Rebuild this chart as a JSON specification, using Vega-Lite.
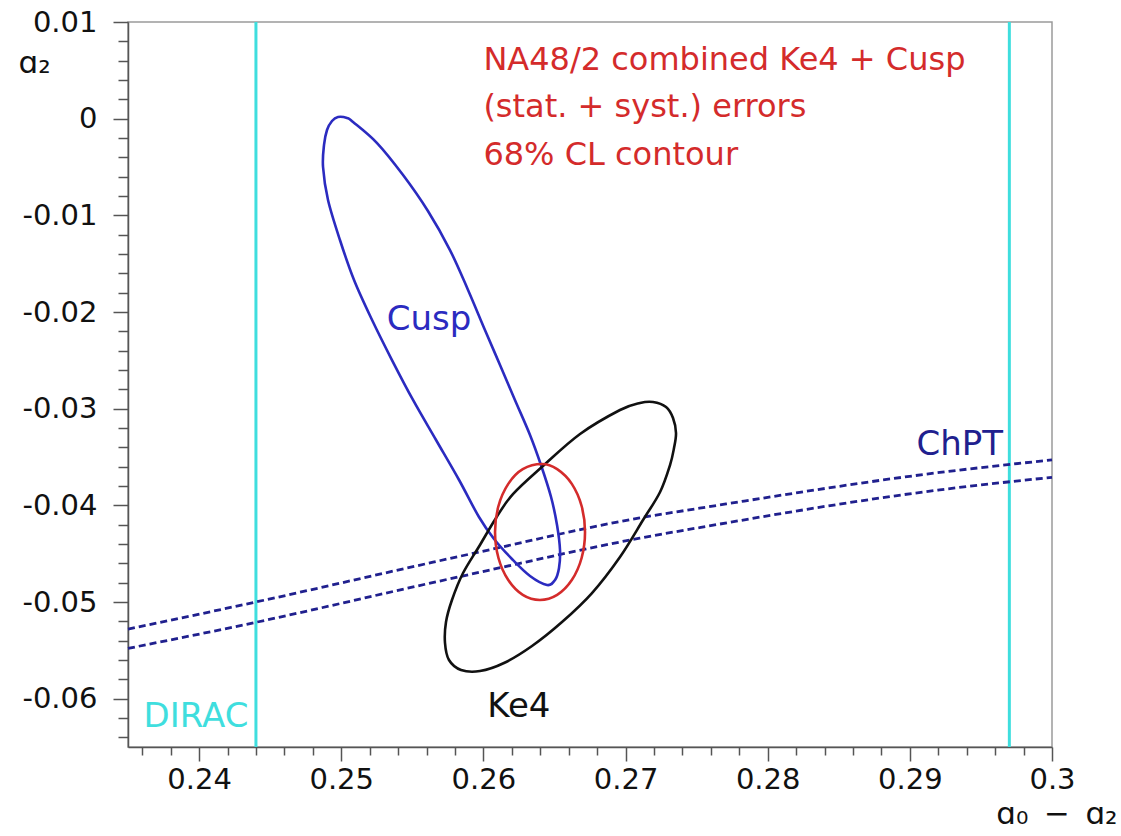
{
  "$schema": "https://vega.github.io/schema/vega-lite/v6.json",
  "width": 924,
  "height": 725,
  "autosize": {"type": "none"},
  "padding": {"left": 128, "top": 22, "right": 69, "bottom": 89},
  "background": "white",
  "config": {
    "font": "DejaVu Sans",
    "view": {"stroke": "#9a9a9a", "strokeWidth": 1.5},
    "axis": {
      "grid": false,
      "domainColor": "#555555",
      "domainWidth": 1.5,
      "tickColor": "#555555",
      "tickWidth": 1.5,
      "labelColor": "#111111",
      "labelFont": "DejaVu Sans",
      "labelFontSize": 29,
      "labelFlush": false,
      "labelOverlap": false,
      "titleFont": "DejaVu Sans",
      "titleFontWeight": "normal",
      "titleColor": "#111111",
      "titleFontSize": 31
    }
  },
  "datasets": {
    "dirac": [
      {"x": 0.244, "series": "DIRAC"},
      {"x": 0.297, "series": "DIRAC"}
    ],
    "chpt": [
      {"curve": "upper", "series": "ChPT", "x": 0.235, "y": -0.0528},
      {"curve": "upper", "series": "ChPT", "x": 0.244, "y": -0.0500},
      {"curve": "upper", "series": "ChPT", "x": 0.2561, "y": -0.0460},
      {"curve": "upper", "series": "ChPT", "x": 0.2598, "y": -0.0448},
      {"curve": "upper", "series": "ChPT", "x": 0.271, "y": -0.0413},
      {"curve": "upper", "series": "ChPT", "x": 0.2752, "y": -0.0403},
      {"curve": "upper", "series": "ChPT", "x": 0.2921, "y": -0.0366},
      {"curve": "upper", "series": "ChPT", "x": 0.300, "y": -0.0353},
      {"curve": "lower", "series": "ChPT", "x": 0.235, "y": -0.0548},
      {"curve": "lower", "series": "ChPT", "x": 0.244, "y": -0.0521},
      {"curve": "lower", "series": "ChPT", "x": 0.2561, "y": -0.0481},
      {"curve": "lower", "series": "ChPT", "x": 0.2598, "y": -0.0469},
      {"curve": "lower", "series": "ChPT", "x": 0.271, "y": -0.0434},
      {"curve": "lower", "series": "ChPT", "x": 0.2752, "y": -0.0423},
      {"curve": "lower", "series": "ChPT", "x": 0.2921, "y": -0.0384},
      {"curve": "lower", "series": "ChPT", "x": 0.300, "y": -0.0371}
    ],
    "contours": [
      {"series": "Cusp", "i": 1, "x": 0.24977, "y": 0.00017},
      {"series": "Cusp", "i": 2, "x": 0.25041, "y": 0.00007},
      {"series": "Cusp", "i": 3, "x": 0.25083, "y": -0.00034},
      {"series": "Cusp", "i": 4, "x": 0.25252, "y": -0.00252},
      {"series": "Cusp", "i": 5, "x": 0.25435, "y": -0.00583},
      {"series": "Cusp", "i": 6, "x": 0.25610, "y": -0.00955},
      {"series": "Cusp", "i": 7, "x": 0.25765, "y": -0.01359},
      {"series": "Cusp", "i": 8, "x": 0.25892, "y": -0.01772},
      {"series": "Cusp", "i": 9, "x": 0.26011, "y": -0.02186},
      {"series": "Cusp", "i": 10, "x": 0.26117, "y": -0.02548},
      {"series": "Cusp", "i": 11, "x": 0.26222, "y": -0.02910},
      {"series": "Cusp", "i": 12, "x": 0.26328, "y": -0.03272},
      {"series": "Cusp", "i": 13, "x": 0.26405, "y": -0.03583},
      {"series": "Cusp", "i": 14, "x": 0.26476, "y": -0.03914},
      {"series": "Cusp", "i": 15, "x": 0.26518, "y": -0.04203},
      {"series": "Cusp", "i": 16, "x": 0.26539, "y": -0.04462},
      {"series": "Cusp", "i": 17, "x": 0.26532, "y": -0.04648},
      {"series": "Cusp", "i": 18, "x": 0.26504, "y": -0.04772},
      {"series": "Cusp", "i": 19, "x": 0.26448, "y": -0.04824},
      {"series": "Cusp", "i": 20, "x": 0.26328, "y": -0.04731},
      {"series": "Cusp", "i": 21, "x": 0.26201, "y": -0.04555},
      {"series": "Cusp", "i": 22, "x": 0.26075, "y": -0.04348},
      {"series": "Cusp", "i": 23, "x": 0.25969, "y": -0.04121},
      {"series": "Cusp", "i": 24, "x": 0.25829, "y": -0.03738},
      {"series": "Cusp", "i": 25, "x": 0.25667, "y": -0.03324},
      {"series": "Cusp", "i": 26, "x": 0.25505, "y": -0.02910},
      {"series": "Cusp", "i": 27, "x": 0.25357, "y": -0.02497},
      {"series": "Cusp", "i": 28, "x": 0.25217, "y": -0.02083},
      {"series": "Cusp", "i": 29, "x": 0.25090, "y": -0.01669},
      {"series": "Cusp", "i": 30, "x": 0.24991, "y": -0.01255},
      {"series": "Cusp", "i": 31, "x": 0.24907, "y": -0.00841},
      {"series": "Cusp", "i": 32, "x": 0.24872, "y": -0.00500},
      {"series": "Cusp", "i": 33, "x": 0.24879, "y": -0.00272},
      {"series": "Cusp", "i": 34, "x": 0.24900, "y": -0.00117},
      {"series": "Cusp", "i": 35, "x": 0.24935, "y": -0.00024},
      {"series": "Ke4", "i": 1, "x": 0.27193, "y": -0.02931},
      {"series": "Ke4", "i": 2, "x": 0.27285, "y": -0.02983},
      {"series": "Ke4", "i": 3, "x": 0.27334, "y": -0.03097},
      {"series": "Ke4", "i": 4, "x": 0.27355, "y": -0.03252},
      {"series": "Ke4", "i": 5, "x": 0.27341, "y": -0.03407},
      {"series": "Ke4", "i": 6, "x": 0.27313, "y": -0.03583},
      {"series": "Ke4", "i": 7, "x": 0.27243, "y": -0.03862},
      {"series": "Ke4", "i": 8, "x": 0.27123, "y": -0.04152},
      {"series": "Ke4", "i": 9, "x": 0.26961, "y": -0.04534},
      {"series": "Ke4", "i": 10, "x": 0.26764, "y": -0.04907},
      {"series": "Ke4", "i": 11, "x": 0.26553, "y": -0.05207},
      {"series": "Ke4", "i": 12, "x": 0.26342, "y": -0.05455},
      {"series": "Ke4", "i": 13, "x": 0.26145, "y": -0.05631},
      {"series": "Ke4", "i": 14, "x": 0.25976, "y": -0.05714},
      {"series": "Ke4", "i": 15, "x": 0.25843, "y": -0.05703},
      {"series": "Ke4", "i": 16, "x": 0.25758, "y": -0.05600},
      {"series": "Ke4", "i": 17, "x": 0.25730, "y": -0.05424},
      {"series": "Ke4", "i": 18, "x": 0.25737, "y": -0.05207},
      {"series": "Ke4", "i": 19, "x": 0.25779, "y": -0.04979},
      {"series": "Ke4", "i": 20, "x": 0.25857, "y": -0.04700},
      {"series": "Ke4", "i": 21, "x": 0.25976, "y": -0.04410},
      {"series": "Ke4", "i": 22, "x": 0.26089, "y": -0.04131},
      {"series": "Ke4", "i": 23, "x": 0.26208, "y": -0.03883},
      {"series": "Ke4", "i": 24, "x": 0.26419, "y": -0.03593},
      {"series": "Ke4", "i": 25, "x": 0.26680, "y": -0.03262},
      {"series": "Ke4", "i": 26, "x": 0.26961, "y": -0.03014},
      {"series": "Ke4", "i": 27, "x": 0.27102, "y": -0.02941},
      {"series": "Combined", "i": 1, "x": 0.26412, "y": -0.03572},
      {"series": "Combined", "i": 2, "x": 0.26519, "y": -0.03626},
      {"series": "Combined", "i": 3, "x": 0.26622, "y": -0.03778},
      {"series": "Combined", "i": 4, "x": 0.26691, "y": -0.04007},
      {"series": "Combined", "i": 5, "x": 0.26715, "y": -0.04276},
      {"series": "Combined", "i": 6, "x": 0.26691, "y": -0.04545},
      {"series": "Combined", "i": 7, "x": 0.26622, "y": -0.04773},
      {"series": "Combined", "i": 8, "x": 0.26519, "y": -0.04926},
      {"series": "Combined", "i": 9, "x": 0.26398, "y": -0.04979},
      {"series": "Combined", "i": 10, "x": 0.26277, "y": -0.04926},
      {"series": "Combined", "i": 11, "x": 0.26175, "y": -0.04773},
      {"series": "Combined", "i": 12, "x": 0.26106, "y": -0.04545},
      {"series": "Combined", "i": 13, "x": 0.26082, "y": -0.04276},
      {"series": "Combined", "i": 14, "x": 0.26106, "y": -0.04007},
      {"series": "Combined", "i": 15, "x": 0.26175, "y": -0.03778},
      {"series": "Combined", "i": 16, "x": 0.26277, "y": -0.03626}
    ],
    "notes": [
      {"x": 0.26, "y": 0.00503, "text": "NA48/2 combined Ke4 + Cusp", "series": "Combined"},
      {"x": 0.26, "y": 0.00017, "text": "(stat. + syst.) errors", "series": "Combined"},
      {"x": 0.26, "y": -0.00479, "text": "68% CL contour", "series": "Combined"}
    ],
    "labels": [
      {"x": 0.25617, "y": -0.02186, "text": "Cusp", "series": "Cusp"},
      {"x": 0.2625, "y": -0.0619, "text": "Ke4", "series": "Ke4"},
      {"x": 0.29351, "y": -0.03479, "text": "ChPT", "series": "ChPT"},
      {"x": 0.23978, "y": -0.06293, "text": "DIRAC", "series": "DIRAC"}
    ]
  },
  "layer": [
    {
      "data": {"name": "dirac"},
      "mark": {"type": "rule", "strokeWidth": 3},
      "encoding": {
        "x": {
          "field": "x", "type": "quantitative",
          "scale": {"domain": [0.235, 0.3], "nice": false, "zero": false},
          "axis": {
            "orient": "bottom",
            "values": [0.24, 0.25, 0.26, 0.27, 0.28, 0.29, 0.3],
            "labelExpr": "format(datum.value, '.2~f')",
            "tickSize": 14,
            "labelPadding": 4,
            "title": "ɑ₀\u2002−\u2002ɑ₂",
            "titleX": 989,
            "titleY": 76,
            "titleAlign": "right",
            "titleBaseline": "alphabetic"
          }
        },
        "color": {
          "field": "series", "type": "nominal", "legend": null,
          "scale": {
            "domain": ["Cusp", "Ke4", "Combined", "ChPT", "DIRAC"],
            "range": ["#2b2bc0", "#111111", "#d42b2b", "#20208e", "#3fdede"]
          }
        }
      }
    },
    {
      "data": {"name": "chpt"},
      "mark": {"type": "line", "strokeWidth": 2.8, "strokeDash": [7, 4], "interpolate": "monotone"},
      "encoding": {
        "x": {
          "field": "x", "type": "quantitative",
          "axis": {
            "orient": "bottom",
            "values": [0.236, 0.238, 0.242, 0.244, 0.246, 0.248, 0.252, 0.254, 0.256, 0.258, 0.262, 0.264, 0.266, 0.268, 0.272, 0.274, 0.276, 0.278, 0.282, 0.284, 0.286, 0.288, 0.292, 0.294, 0.296, 0.298],
            "labels": false,
            "domain": false,
            "tickSize": 8,
            "title": null
          }
        },
        "y": {
          "field": "y", "type": "quantitative",
          "axis": {
            "orient": "left",
            "values": [0.008, 0.006, 0.004, 0.002, -0.002, -0.004, -0.006, -0.008, -0.012, -0.014, -0.016, -0.018, -0.022, -0.024, -0.026, -0.028, -0.032, -0.034, -0.036, -0.038, -0.042, -0.044, -0.046, -0.048, -0.052, -0.054, -0.056, -0.058, -0.062, -0.064],
            "labels": false,
            "domain": false,
            "tickSize": 10,
            "title": null
          }
        },
        "detail": {"field": "curve", "type": "nominal"},
        "color": {"field": "series", "type": "nominal", "legend": null}
      }
    },
    {
      "data": {"name": "contours"},
      "mark": {"type": "line", "strokeWidth": 2.6, "interpolate": "cardinal-closed"},
      "encoding": {
        "x": {"field": "x", "type": "quantitative", "axis": null},
        "y": {
          "field": "y", "type": "quantitative",
          "scale": {"domain": [-0.065, 0.01], "nice": false, "zero": false},
          "axis": {
            "orient": "left",
            "values": [0.01, 0, -0.01, -0.02, -0.03, -0.04, -0.05, -0.06],
            "labelExpr": "replace(format(datum.value, '.2~f'), '\u2212', '-')",
            "tickSize": 15,
            "labelPadding": 16,
            "title": "ɑ₂",
            "titleAngle": 0,
            "titleX": -110,
            "titleY": 50,
            "titleAlign": "left",
            "titleBaseline": "alphabetic"
          }
        },
        "order": {"field": "i", "type": "quantitative"},
        "color": {"field": "series", "type": "nominal", "legend": null}
      }
    },
    {
      "data": {"name": "notes"},
      "mark": {"type": "text", "align": "left", "baseline": "alphabetic", "fontSize": 32, "font": "DejaVu Sans"},
      "encoding": {
        "x": {"field": "x", "type": "quantitative", "axis": null},
        "y": {"field": "y", "type": "quantitative", "axis": null},
        "text": {"field": "text"},
        "color": {"field": "series", "type": "nominal", "legend": null}
      }
    },
    {
      "data": {"name": "labels"},
      "mark": {"type": "text", "align": "center", "baseline": "alphabetic", "fontSize": 34, "font": "DejaVu Sans"},
      "encoding": {
        "x": {"field": "x", "type": "quantitative", "axis": null},
        "y": {"field": "y", "type": "quantitative", "axis": null},
        "text": {"field": "text"},
        "color": {"field": "series", "type": "nominal", "legend": null}
      }
    }
  ],
  "resolve": {"axis": {"x": "independent", "y": "independent"}}
}
